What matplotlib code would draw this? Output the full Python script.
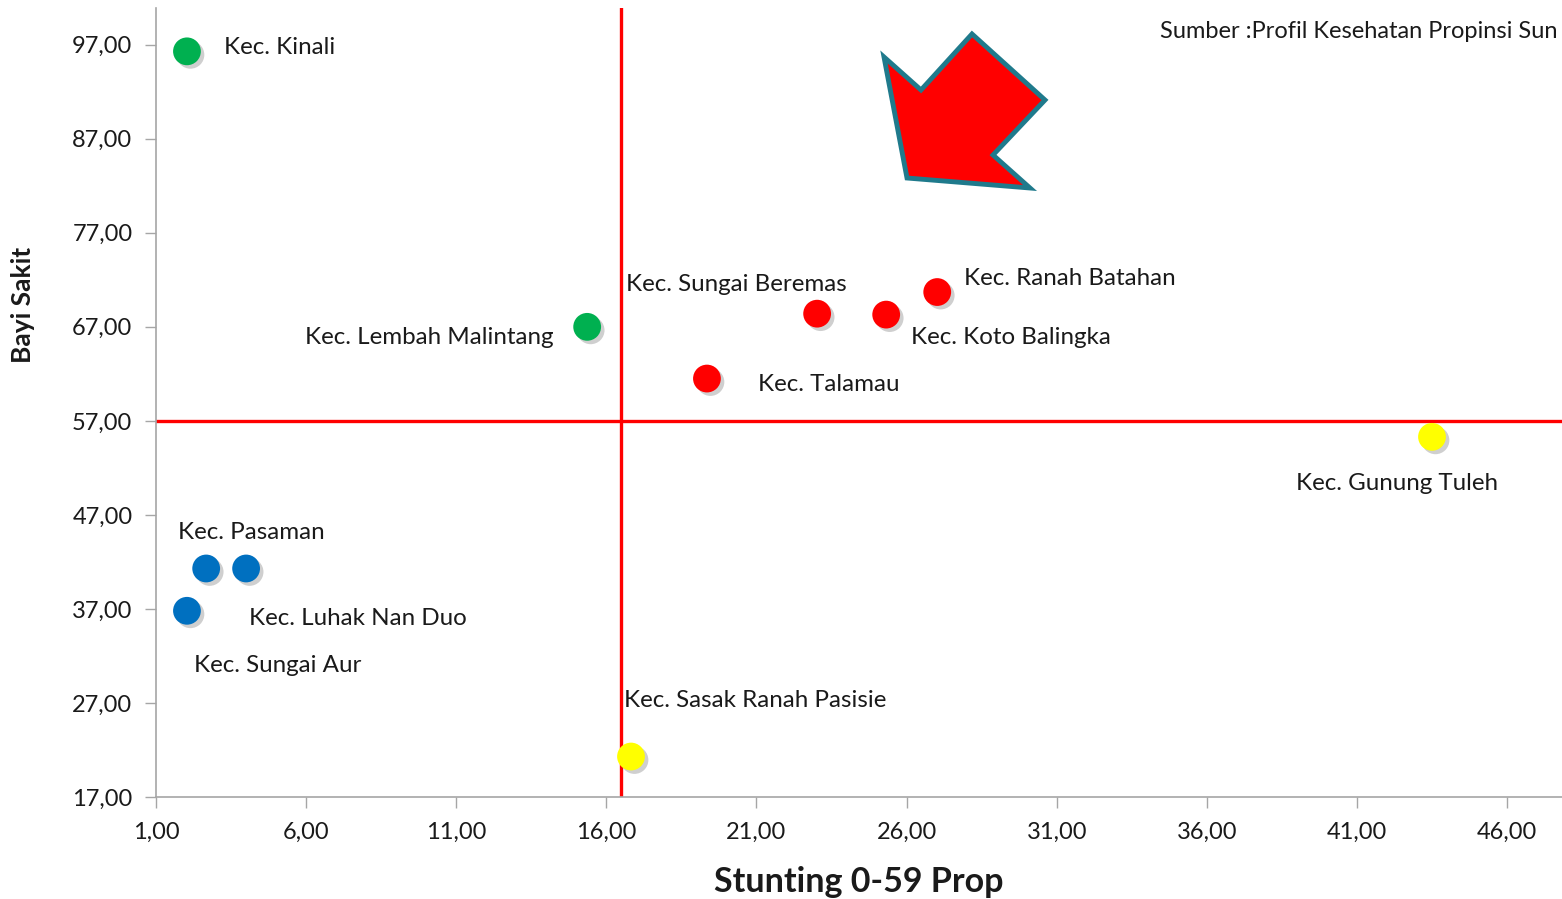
import matplotlib
matplotlib.use("Agg")
import matplotlib.pyplot as plt
import matplotlib.patheffects as pe
from matplotlib.patches import Polygon
from matplotlib.ticker import FuncFormatter

plt.rcParams['font.family'] = ['Lato', 'DejaVu Sans']

# data
kecamatan = ["Kec. Kinali", "Kec. Lembah Malintang", "Kec. Sungai Beremas",
             "Kec. Koto Balingka", "Kec. Ranah Batahan", "Kec. Talamau",
             "Kec. Gunung Tuleh", "Kec. Pasaman", "Kec. Luhak Nan Duo",
             "Kec. Sungai Aur", "Kec. Sasak Ranah Pasisie"]
stunting = [2.03, 15.36, 23.02, 25.32, 27.02, 19.35, 43.5, 2.67, 4.0, 2.03, 16.82]
bayi_sakit = [96.3, 67.0, 68.4, 68.3, 70.7, 61.5, 55.3, 41.3, 41.3, 36.8, 21.3]
kuadran = ["green", "green", "red", "red", "red", "red", "yellow",
           "blue", "blue", "blue", "yellow"]
batas_x = 16.49
batas_y = 57.0
xticks = [1, 6, 11, 16, 21, 26, 31, 36, 41, 46]
yticks = [17, 27, 37, 47, 57, 67, 77, 87, 97]
sumber = "Sumber :Profil Kesehatan Propinsi Sun"

warna = {"green": "#00B050", "red": "#FF0000", "yellow": "#FFFF00", "blue": "#0070C0"}

# label offsets in pixels (dx, dy, ha)
offsets = [(37, 4, 'left'), (-34, -11, 'right'), (-191, 29, 'left'),
           (25, -23, 'left'), (27, 14, 'left'), (51, -6, 'left'),
           (-136, -47, 'left'), (-28, 36, 'left'), (3, -50, 'left'),
           (7, -55, 'left'), (-7, 56, 'left')]

fig = plt.figure(figsize=(15.62, 8.99), dpi=100)
ax = fig.add_axes([0.0999, 0.1135, 0.9001, 0.8775])
ax.set_xlim(1, 47.83)
ax.set_ylim(17, 100.9)

ax.axvline(batas_x, color="#FF0000", lw=2.4, zorder=2)
ax.axhline(batas_y, color="#FF0000", lw=2.4, zorder=2)

shadow = [pe.SimplePatchShadow(offset=(2.5, -2.5), alpha=0.25, shadow_rgbFace="#404040"), pe.Normal()]
for i in range(len(kecamatan)):
    sc = ax.scatter(stunting[i], bayi_sakit[i], s=400, color=warna[kuadran[i]],
                    edgecolors='none', zorder=3, clip_on=False)
    sc.set_path_effects(shadow)
    dx, dy, ha = offsets[i]
    ax.annotate(kecamatan[i], (stunting[i], bayi_sakit[i]), xytext=(dx, dy),
                textcoords='offset pixels', ha=ha, va='center',
                fontsize=17.4, color="#1a1a1a", zorder=4)

ax.set_xticks(xticks)
ax.set_yticks(yticks)
fmt = FuncFormatter(lambda v, p: ("%.2f" % v).replace(".", ","))
ax.xaxis.set_major_formatter(fmt)
ax.yaxis.set_major_formatter(fmt)
ax.tick_params(axis='both', direction='out', length=8, width=1, color="#A6A6A6",
               labelsize=17, labelcolor="#1a1a1a")
ax.tick_params(axis='x', pad=10)
ax.tick_params(axis='y', pad=9)

for side in ['top', 'right']:
    ax.spines[side].set_visible(False)
for side in ['left', 'bottom']:
    ax.spines[side].set_color("#A6A6A6")
    ax.spines[side].set_linewidth(1.2)

ax.set_xlabel("Stunting 0-59 Prop", fontsize=24.5, fontweight='bold', color="#1a1a1a")
ax.set_ylabel("Bayi Sakit", fontsize=19, fontweight='bold', color="#1a1a1a")
ax.yaxis.set_label_coords(-0.086, 0.624)
ax.xaxis.set_label_coords(0.5, -0.088)

fig.text(1558 / 1562, 1 - 32 / 899, sumber,
         fontsize=17, color="#1a1a1a", va='center', ha='right')

# decorative arrow, in pixel positions of the figure
arrow_px = [(884, 57), (921, 90), (972, 34), (1045, 100), (993, 155), (1030, 188), (907, 178)]
arrow = Polygon([(x / 1562, 1 - y / 899) for x, y in arrow_px], closed=True,
                facecolor="#FF0000", edgecolor="#1F7A8C", lw=3.5,
                transform=fig.transFigure, zorder=5)
fig.patches.append(arrow)

fig.savefig("out.png", dpi=100)
